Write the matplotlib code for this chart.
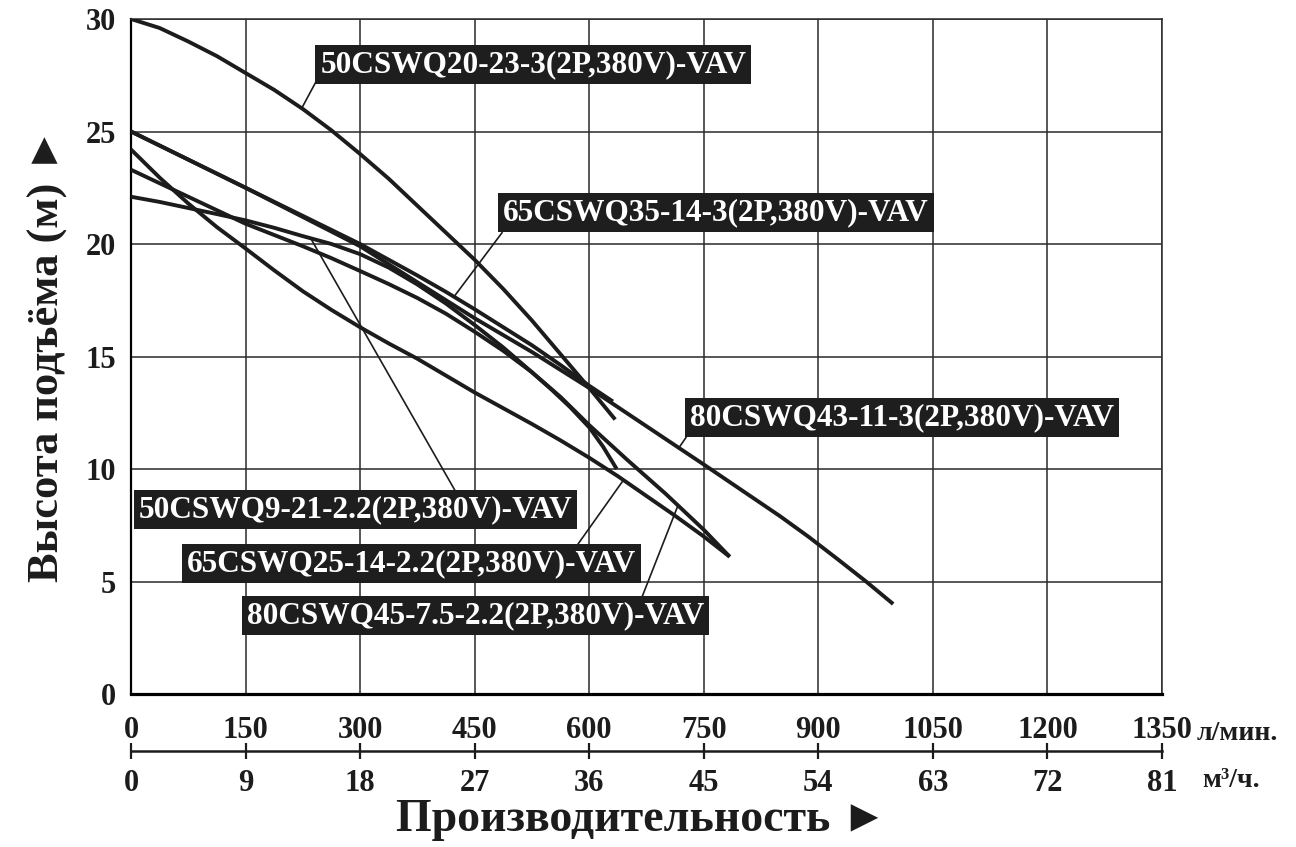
import matplotlib
matplotlib.use('Agg')
import matplotlib.pyplot as plt

plt.rcParams['font.family'] = ['Liberation Serif', 'DejaVu Sans']
plt.rcParams['font.weight'] = 'bold'

# flow (l/min) and head (m), one pair of lists per pump
q_50cswq20 = [0, 37.5, 75, 112.5, 150, 187.5, 225, 262.5, 300, 337.5, 375, 412.5,
              450, 487.5, 525, 562.5, 600, 634]
h_50cswq20 = [30.0, 29.6, 29.0, 28.35, 27.6, 26.85, 26.0, 25.05, 24.0, 22.9, 21.7, 20.5,
              19.3, 18.0, 16.6, 15.1, 13.6, 12.2]

q_65cswq35 = [0, 75, 150, 225, 300, 337.5, 375, 412.5, 450, 487.5, 525, 562.5, 600, 631]
h_65cswq35 = [25.0, 23.75, 22.5, 21.25, 20.0, 19.3, 18.6, 17.87, 17.1, 16.3, 15.5, 14.62,
              13.7, 13.0]

q_80cswq43 = [0, 150, 225, 262.5, 300, 337.5, 375, 450, 525, 600, 637.5, 675, 712.5,
              750, 800, 850, 887.5, 925, 962.5, 998]
h_80cswq43 = [25.0, 22.5, 21.2, 20.55, 19.9, 19.1, 18.3, 16.7, 15.2, 13.6, 12.75, 11.9,
              11.05, 10.2, 9.05, 7.9, 6.98, 6.0, 5.0, 4.0]

q_50cswq9 = [0, 37.5, 75, 112.5, 150, 187.5, 225, 262.5, 300, 337.5, 375, 412.5, 450,
             487.5, 525, 550, 575, 600, 618, 636]
h_50cswq9 = [22.1, 21.87, 21.6, 21.33, 21.05, 20.72, 20.35, 20.0, 19.55, 18.95, 18.2,
             17.35, 16.4, 15.4, 14.3, 13.55, 12.75, 11.85, 11.0, 10.0]

q_65cswq25 = [0, 37.5, 75, 112.5, 150, 187.5, 225, 262.5, 300, 337.5, 375, 412.5, 450,
              487.5, 525, 562.5, 600, 637.5, 675, 712.5, 750, 784]
h_65cswq25 = [24.2, 22.95, 21.8, 20.75, 19.8, 18.83, 17.9, 17.07, 16.3, 15.58, 14.9, 14.15,
              13.4, 12.7, 12.0, 11.27, 10.5, 9.68, 8.8, 7.92, 7.0, 6.1]

q_80cswq45 = [0, 37.5, 75, 112.5, 150, 187.5, 225, 262.5, 300, 337.5, 375, 412.5, 450,
              487.5, 525, 562.5, 600, 650, 700, 750, 784]
h_80cswq45 = [23.3, 22.7, 22.1, 21.5, 20.9, 20.4, 19.9, 19.37, 18.8, 18.22, 17.6, 16.9,
              16.1, 15.25, 14.3, 13.2, 11.95, 10.4, 8.9, 7.3, 6.1]

names = ['50CSWQ20-23-3(2P,380V)-VAV', '65CSWQ35-14-3(2P,380V)-VAV',
         '80CSWQ43-11-3(2P,380V)-VAV', '50CSWQ9-21-2.2(2P,380V)-VAV',
         '65CSWQ25-14-2.2(2P,380V)-VAV', '80CSWQ45-7.5-2.2(2P,380V)-VAV']

lpm_ticks = list(range(0, 1351, 150))
m3h_ticks = list(range(0, 82, 9))
head_ticks = list(range(0, 31, 5))

curves = [(q_50cswq20, h_50cswq20), (q_65cswq35, h_65cswq35),
          (q_80cswq43, h_80cswq43), (q_50cswq9, h_50cswq9),
          (q_65cswq25, h_65cswq25), (q_80cswq45, h_80cswq45)]

# label centre, leader start (box edge) and leader end (on the curve)
label_xy = [(527, 27.98), (766, 21.4), (1010, 12.27), (294, 8.2), (367, 5.78), (451, 3.47)]
leader_from = [(243.6, 27.3), (485.8, 20.5), (726.7, 11.4), (425, 9.0), (584, 6.6), (669, 4.3)]
leader_to = [(224.6, 26.1), (423, 17.66), (717.6, 10.95), (237, 20.15), (643.6, 9.45), (715.3, 8.3)]

W, H = 1296, 847
fig = plt.figure(figsize=(W / 100, H / 100), dpi=100)
ax = fig.add_axes([131 / W, 1 - 694 / H, (1162 - 131) / W, (694 - 19) / H])

ink = '#1c1c1c'
ax.set_xlim(0, 1350)
ax.set_ylim(0, 30)
ax.set_xticks(lpm_ticks)
ax.set_yticks(head_ticks)
ax.grid(True, color='#2a2a2a', linewidth=1.1)
ax.set_axisbelow(True)
for s in ['top', 'right']:
    ax.spines[s].set_linewidth(1.1)
    ax.spines[s].set_color('#2a2a2a')
ax.spines['left'].set_linewidth(1.6)
ax.spines['bottom'].set_linewidth(2.3)
ax.tick_params(axis='both', length=0, labelsize=22, colors=ink)
ax.tick_params(axis='x', pad=16)
ax.tick_params(axis='y', pad=11)

for (q, h) in curves:
    ax.plot(q, h, color=ink, linewidth=2.8, solid_capstyle='butt',
            solid_joinstyle='round', zorder=3)

for i, name in enumerate(names):
    ax.plot([leader_from[i][0], leader_to[i][0]], [leader_from[i][1], leader_to[i][1]],
            color=ink, linewidth=1.2, zorder=3)
    ax.text(label_xy[i][0], label_xy[i][1], name, ha='center', va='center',
            fontsize=22.5, color='white', zorder=5,
            bbox=dict(boxstyle='square,pad=0.16', fc='#1e1e1e', ec='none'))

# second flow scale in m3/h
sec = ax.secondary_xaxis(-0.0845, functions=(lambda x: x * 0.06, lambda x: x / 0.06))
sec.set_xticks(m3h_ticks)
sec.spines['bottom'].set_linewidth(1.8)
sec.spines['bottom'].set_color(ink)
sec.tick_params(axis='x', direction='inout', length=12, width=1.6, labelsize=22,
                colors=ink, pad=7)

fig.text(1197 / W, 1 - 733 / H, 'л/мин.', ha='left', va='center', fontsize=20, color=ink)
fig.text(1202 / W, 1 - 780 / H, 'м³/ч.', ha='left', va='center', fontsize=20, color=ink)
fig.text(642 / W, 1 - 820 / H, 'Производительность ►', ha='center', va='center',
         fontsize=33, color=ink)
fig.text(48 / W, 1 - 355 / H, 'Высота подъёма (м) ►', ha='center', va='center',
         rotation=90, fontsize=32, color=ink)

fig.savefig('out.png', dpi=100)
